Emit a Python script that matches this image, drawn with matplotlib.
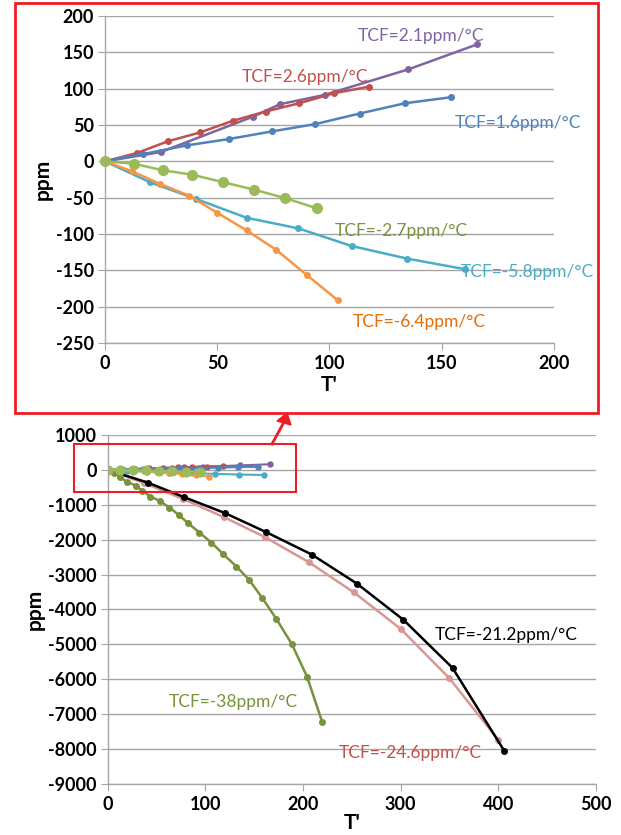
import matplotlib.pyplot as plt
from matplotlib.patches import Rectangle

plt.rcParams['font.family'] = ['Lato', 'DejaVu Sans']
plt.rcParams['axes.unicode_minus'] = False

# ---- small-range series (top chart) ----
t_purple = [0, 24.9, 66.1, 77.9, 97.8, 135.1, 165.7]
p_purple = [0, 12.8, 61.6, 78.5, 91.3, 126.4, 160.7]
t_red = [0, 14.2, 27.9, 42.3, 56.9, 71.6, 86.6, 101.9, 117.7]
p_red = [0, 11.4, 27.4, 39.7, 55.7, 68.5, 79.9, 93.6, 102.7]
t_blue = [0, 17, 36.4, 55.1, 74.3, 93.5, 113.4, 133.7, 154.1]
p_blue = [0, 10, 21.9, 30.6, 41.1, 51.1, 65.7, 79.9, 88.1]
t_cyan = [0, 20.1, 40.5, 63.1, 86.2, 109.9, 134.6, 160.4]
p_cyan = [0, -28.8, -51.6, -77.6, -92.2, -116.4, -133.7, -148.3]
t_orange = [0, 12.1, 24.5, 37.3, 50, 63.1, 76.4, 90, 103.8]
p_orange = [0, -13.7, -31, -47, -70.7, -94.9, -121.9, -156.5, -191.2]
t_green = [0, 12.8, 25.8, 38.8, 52.8, 66.3, 80.4, 94.6]
p_green = [0, -3.2, -12.3, -18.3, -28.8, -38.8, -50.7, -64.8]

# ---- large-range series (bottom chart) ----
t_black = [0, 40.8, 78.4, 120.4, 162.4, 209, 255.1, 302.9, 353.1, 406.1]
p_black = [0, -363, -783, -1242, -1786, -2426, -3257, -4298, -5673, -8052]
t_pink = [0, 37.6, 77.6, 119.2, 161.2, 206, 251.8, 300, 349.8, 400]
p_pink = [0, -382, -840, -1356, -1929, -2646, -3505, -4556, -5969, -7736]
t_green38 = [0, 6.9, 12.2, 19.6, 28.6, 35.5, 43.7, 53.1, 63.3, 72.7, 82.4, 93.9,
             106.1, 118.4, 131.8, 144.9, 158.4, 172.7, 188.6, 204.1, 219.6]
p_green38 = [0, -76, -210, -334, -449, -600, -764, -888, -1079, -1289, -1528, -1796,
             -2082, -2416, -2770, -3152, -3677, -4269, -4995, -5922, -7221]

small = [
    (t_purple, p_purple, '#8064A2', 4),
    (t_red, p_red, '#C0504D', 4),
    (t_blue, p_blue, '#4F81BD', 4),
    (t_cyan, p_cyan, '#4BACC6', 4),
    (t_orange, p_orange, '#F79646', 4),
    (t_green, p_green, '#9BBB59', 7),
]

GRID = '#a6a6a6'


def style(ax):
    ax.grid(True, axis='y', color=GRID, lw=1)
    ax.set_axisbelow(True)
    for s in ['top', 'right']:
        ax.spines[s].set_visible(False)
    for s in ['left', 'bottom']:
        ax.spines[s].set_color(GRID)
        ax.spines[s].set_linewidth(1)
    ax.tick_params(axis='both', direction='out', length=5, color=GRID, labelsize=13)
    ax.tick_params(axis='y', pad=3)
    for lab in ax.get_xticklabels() + ax.get_yticklabels():
        lab.set_fontweight('bold')


fig = plt.figure(figsize=(6.21, 8.35), dpi=100)

# top (zoomed) chart
ax1 = fig.add_axes([0.169, 0.589, 0.723, 0.392])
for t, p, c, ms in small:
    ax1.plot(t, p, color=c, lw=1.8, marker='o', ms=ms, clip_on=False)
ax1.set_xlim(0, 200)
ax1.set_ylim(-250, 200)
ax1.set_xticks(range(0, 201, 50))
ax1.set_yticks(range(-250, 201, 50))
style(ax1)
ax1.set_xlabel("T'", fontsize=15, fontweight='bold', labelpad=2)
ax1.set_ylabel('ppm', fontsize=15, fontweight='bold', labelpad=2)

lab_kw = dict(fontsize=12.5, ha='center', va='center', clip_on=False)
ax1.text(141, 173, 'TCF=2.1ppm/°C', color='#8064A2', **lab_kw)
ax1.text(89, 116, 'TCF=2.6ppm/°C', color='#C0504D', **lab_kw)
ax1.text(184, 52.5, 'TCF=1.6ppm/°C', color='#4F81BD', **lab_kw)
ax1.text(132, -96, 'TCF=-2.7ppm/°C', color='#77933C', **lab_kw)
ax1.text(188, -152, 'TCF=-5.8ppm/°C', color='#4BACC6', **lab_kw)
ax1.text(140, -221, 'TCF=-6.4ppm/°C', color='#E46C0A', **lab_kw)

# bottom (full range) chart
ax2 = fig.add_axes([0.1734, 0.0611, 0.7863, 0.418])
ax2.plot(t_pink, p_pink, color='#D99694', lw=1.8, marker='o', ms=4)
ax2.plot(t_black, p_black, color='black', lw=1.8, marker='o', ms=4)
ax2.plot(t_green38, p_green38, color='#77933C', lw=1.8, marker='o', ms=4)
for t, p, c, ms in small:
    ax2.plot(t, p, color=c, lw=1.5, marker='o', ms=ms * 0.9)
ax2.set_xlim(0, 500)
ax2.set_ylim(-9000, 1000)
ax2.set_xticks(range(0, 501, 100))
ax2.set_yticks(range(-9000, 1001, 1000))
style(ax2)
ax2.set_xlabel("T'", fontsize=15, fontweight='bold', labelpad=0)
ax2.set_ylabel('ppm', fontsize=15, fontweight='bold', labelpad=2)

ax2.text(408, -4728, 'TCF=-21.2ppm/°C', color='black', **lab_kw)
ax2.text(310, -8118, 'TCF=-24.6ppm/°C', color='#C0504D', **lab_kw)
ax2.text(129, -6638, 'TCF=-38ppm/°C', color='#77933C', **lab_kw)

# red frame around the top chart, red box over the zoomed region, and arrow
W, H = 621, 835
fig.patches.append(Rectangle((15 / W, 1 - 413 / H), 583 / W, 410 / H,
                             transform=fig.transFigure, fill=False,
                             edgecolor='#ee1c24', lw=2))
fig.patches.append(Rectangle((74 / W, 1 - 491.5 / H), 222 / W, 47.5 / H,
                             transform=fig.transFigure, fill=False,
                             edgecolor='#ee1c24', lw=1.5))
fig.add_artist(plt.Line2D([272 / W, 284 / W], [1 - 444 / H, 1 - 422 / H],
                          transform=fig.transFigure, color='#ee1c24', lw=2))
fig.patches.append(plt.Polygon([(277 / W, 1 - 421 / H), (291 / W, 1 - 425 / H),
                                (287 / W, 1 - 413 / H)],
                               closed=True, transform=fig.transFigure,
                               color='#ee1c24'))

plt.savefig('out.png', dpi=100)
